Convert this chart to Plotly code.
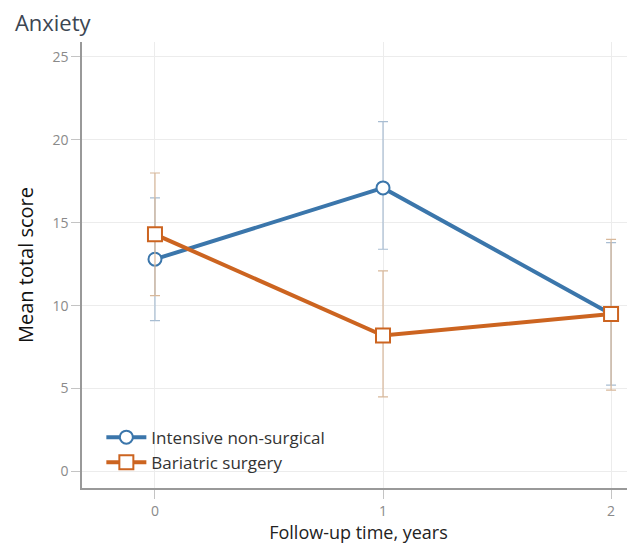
import plotly.graph_objects as go

# 随访时间（年）
years = [0, 1, 2]

# 强化非手术组
nonsurg_mean = [12.8, 17.1, 9.5]
nonsurg_lo = [9.1, 13.4, 5.2]
nonsurg_hi = [16.5, 21.1, 13.8]

# 减重手术组
bariatric_mean = [14.3, 8.2, 9.5]
bariatric_lo = [10.6, 4.5, 4.9]
bariatric_hi = [18.0, 12.1, 14.0]

y_ticks = [0, 5, 10, 15, 20, 25]

FONT = "Open Sans, Lato, Arial"
BLUE = "#3b76ab"
ORANGE = "#cc6420"


def err(mean, lo, hi):
    return dict(
        type="data",
        symmetric=False,
        array=[h - m for h, m in zip(hi, mean)],
        arrayminus=[m - l for m, l in zip(mean, lo)],
        thickness=1.2,
        width=5,
    )


fig = go.Figure()

fig.add_trace(go.Scatter(
    x=years, y=nonsurg_mean,
    mode="lines+markers",
    name="Intensive non-surgical",
    line=dict(color=BLUE, width=4),
    marker=dict(symbol="circle", size=13, color="white", line=dict(color=BLUE, width=2)),
    error_y=dict(err(nonsurg_mean, nonsurg_lo, nonsurg_hi), color="#a8bdd2"),
))

fig.add_trace(go.Scatter(
    x=years, y=bariatric_mean,
    mode="lines+markers",
    name="Bariatric surgery",
    line=dict(color=ORANGE, width=4),
    marker=dict(symbol="square", size=14, color="white", line=dict(color=ORANGE, width=2)),
    error_y=dict(err(bariatric_mean, bariatric_lo, bariatric_hi), color="#d8b89a"),
))

# 页面 body 自带 8px 边距，图整体往左上收 8px
fig.update_xaxes(
    range=[-0.32, 2.105],
    tickvals=years,
    ticks="outside", ticklen=9, tickcolor="#c4c4c4",
    showgrid=True, gridcolor="#ececec", gridwidth=1,
    showline=True, linecolor="#999999", linewidth=1.5,
    zeroline=False, automargin=False,
    tickfont=dict(size=14, color="#8a8a8a"),
    title=dict(text="Follow-up time, years", font=dict(size=18, color="#222222"), standoff=1),
)
fig.update_yaxes(
    range=[-1.0, 25.9],
    tickvals=y_ticks,
    ticks="outside", ticklen=9, tickcolor="#c4c4c4",
    showgrid=True, gridcolor="#ececec", gridwidth=1,
    showline=True, linecolor="#999999", linewidth=1.5,
    zeroline=False, automargin=False,
    tickfont=dict(size=14, color="#8a8a8a"),
    title=dict(text="Mean total score", font=dict(size=20, color="#111111"), standoff=13),
)

fig.update_layout(
    width=627, height=537,
    margin=dict(l=74, r=0, t=34, b=57),
    plot_bgcolor="white",
    paper_bgcolor="white",
    font=dict(family=FONT),
    title=dict(text="Anxiety", x=0.011, xanchor="left", y=0.971, yanchor="middle",
               font=dict(size=22, color="#3c4652")),
    showlegend=True,
    legend=dict(
        x=0.035, y=0.085, xanchor="left", yanchor="middle",
        bgcolor="rgba(0,0,0,0)",
        font=dict(size=17, color="#333333"),
        itemwidth=40,
        tracegroupgap=0,
    ),
)

fig.write_html("out.html")
